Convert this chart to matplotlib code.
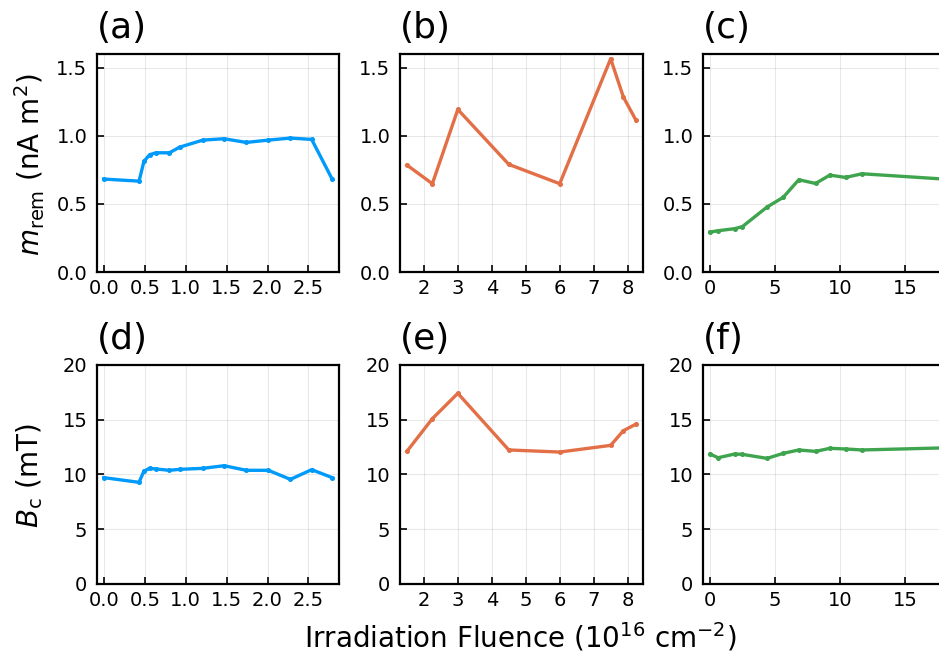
import matplotlib
matplotlib.use("Agg")
import matplotlib.pyplot as plt
import matplotlib.transforms as mtransforms

# fluence (1e16 cm^-2), remanent moment (nA m^2), coercive field (mT)
a_x = [0.0, 0.43, 0.49, 0.56, 0.64, 0.80, 0.93, 1.21, 1.47, 1.74, 2.01, 2.28, 2.54, 2.79]
a_m = [0.682, 0.667, 0.812, 0.861, 0.875, 0.875, 0.917, 0.968, 0.978, 0.951, 0.968, 0.983, 0.973, 0.682]
a_b = [9.70, 9.27, 10.30, 10.55, 10.49, 10.37, 10.46, 10.55, 10.79, 10.37, 10.37, 9.54, 10.43, 9.70]

b_x = [1.5, 2.25, 3.0, 4.5, 6.0, 7.5, 7.875, 8.25]
b_m = [0.785, 0.648, 1.193, 0.790, 0.648, 1.565, 1.284, 1.112]
b_b = [12.10, 15.09, 17.41, 12.23, 12.04, 12.65, 13.99, 14.60]

c_x = [0.0, 0.62, 1.9, 2.49, 4.39, 5.63, 6.83, 8.12, 9.22, 10.43, 11.69, 18.0]
c_m = [0.293, 0.303, 0.318, 0.333, 0.477, 0.548, 0.677, 0.650, 0.711, 0.694, 0.721, 0.682]
c_b = [11.86, 11.52, 11.86, 11.83, 11.46, 11.92, 12.23, 12.10, 12.38, 12.32, 12.23, 12.42]

colors = ['#009AFA', '#E36F47', '#3EA44E']
labels = ['(a)', '(b)', '(c)', '(d)', '(e)', '(f)']
xticks = [[0.0, 0.5, 1.0, 1.5, 2.0, 2.5], [2, 3, 4, 5, 6, 7, 8], [0, 5, 10, 15]]
xticklabels = [['0.0', '0.5', '1.0', '1.5', '2.0', '2.5'],
               ['2', '3', '4', '5', '6', '7', '8'],
               ['0', '5', '10', '15']]

W, H = 939, 657
fig = plt.figure(figsize=(W / 100, H / 100), dpi=100)

lefts = [97, 400, 703]
widths = [242, 243, 248]
rows = [(54, 272), (365, 583.7)]

xs = [a_x, b_x, c_x]
ys = [[a_m, b_m, c_m], [a_b, b_b, c_b]]

for r in range(2):
    top, bot = rows[r]
    for c in range(3):
        ax = fig.add_axes([lefts[c] / W, 1 - bot / H, widths[c] / W, (bot - top) / H])
        x = xs[c]
        ax.plot(x, ys[r][c], color=colors[c], lw=2.4, marker='o', ms=2.6,
                mec=colors[c], mfc=colors[c], clip_on=False, zorder=3)
        rng = max(x) - min(x)
        ax.set_xlim(min(x) - 0.03 * rng, max(x) + 0.03 * rng)
        ax.set_xticks(xticks[c])
        ax.set_xticklabels(xticklabels[c])
        if r == 0:
            ax.set_ylim(0, 1.6)
            ax.set_yticks([0, 0.5, 1.0, 1.5])
            ax.set_yticklabels(['0.0', '0.5', '1.0', '1.5'])
        else:
            ax.set_ylim(0, 20)
            ax.set_yticks([0, 5, 10, 15, 20])
            ax.set_yticklabels(['0', '5', '10', '15', '20'])
        ax.grid(True, color='black', alpha=0.09, lw=0.8)
        ax.set_axisbelow(True)
        for s in ax.spines.values():
            s.set_linewidth(1.6)
        ax.tick_params(direction='in', length=5, width=1.2, labelsize=14,
                       top=False, right=False)
        ax.tick_params(axis='y', pad=7)
        ax.tick_params(axis='x', pad=5)
        off = mtransforms.offset_copy(ax.transAxes, fig=fig, x=0, y=16, units='dots')
        ax.text(0.0, 1.0, labels[r * 3 + c], transform=off, fontsize=26,
                ha='left', va='baseline')

fig.text(30 / W, 1 - 165 / H, r'$m_\mathrm{rem}$ (nA m$^2$)', rotation=90,
         ha='center', va='center', fontsize=20)
fig.text(30 / W, 1 - 476 / H, r'$B_\mathrm{c}$ (mT)', rotation=90,
         ha='center', va='center', fontsize=20)
fig.text(520 / W, 1 - 637 / H, r'Irradiation Fluence (10$^{16}$ cm$^{-2}$)',
         ha='center', va='center', fontsize=20)

fig.savefig('out.png', dpi=100)
